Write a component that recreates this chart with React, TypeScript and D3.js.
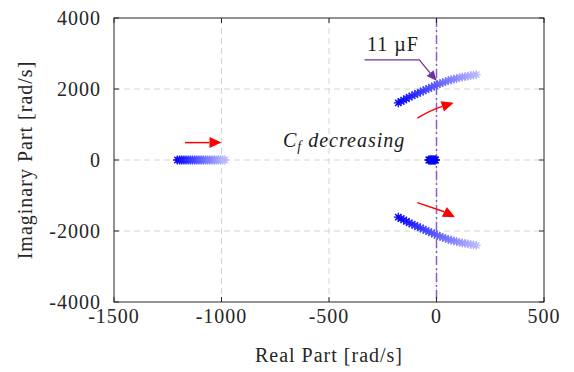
import { useEffect, useRef } from "react";
import * as d3 from "d3";

// Root locus (rad/s)
const UPPER_REAL = [
  -178, -165, -152, -140, -127, -114, -101, -88, -75, -62, -49, -36, -23, -10,
  3, 16, 29, 42, 55, 68, 81, 94, 107, 120, 133, 146, 159, 172, 185,
];
const UPPER_IMAG = [
  1610, 1650, 1690, 1730, 1768, 1805, 1840, 1875, 1910, 1945, 1980, 2015, 2050,
  2085, 2120, 2150, 2180, 2208, 2235, 2258, 2280, 2300, 2318, 2335, 2350, 2365,
  2380, 2393, 2405,
];
const LOWER_REAL = [
  -178, -165, -152, -140, -127, -114, -101, -88, -75, -62, -49, -36, -23, -10,
  3, 16, 29, 42, 55, 68, 81, 94, 107, 120, 133, 146, 159, 172, 185,
];
const LOWER_IMAG = [
  -1610, -1650, -1690, -1730, -1768, -1805, -1840, -1875, -1910, -1945, -1980,
  -2015, -2050, -2085, -2120, -2150, -2180, -2208, -2235, -2258, -2280, -2300,
  -2318, -2335, -2350, -2365, -2380, -2393, -2405,
];
const AXIS_REAL = [
  -1205, -1195, -1185, -1175, -1165, -1155, -1145, -1135, -1125, -1115, -1105,
  -1095, -1085, -1075, -1065, -1055, -1045, -1035, -1025, -1015, -1005, -995,
  -985,
];
const AXIS_IMAG = [
  0, 0, 0, 0, 0, 0, 0, 0, 0, 0, 0, 0, 0, 0, 0, 0, 0, 0, 0, 0, 0, 0, 0,
];
const CLUSTER_REAL = [-36, -32, -28, -24, -20, -16, -12, -8, -4];
const CLUSTER_IMAG = [0, 0, 0, 0, 0, 0, 0, 0, 0];

const REAL_TICKS = [-1500, -1000, -500, 0, 500];
const IMAG_TICKS = [-4000, -2000, 0, 2000, 4000];

// annotation anchors in data units
const STRAIGHT_ARROW = [[-1170, 490], [-1000, 490]];
const UPPER_ARROW = [[-89, 1180], [-26, 1408], [80, 1614]];
const LOWER_ARROW = [[-89, -1200], [35, -1454], [86, -1614]];
const CF_LINE = [[-335, 2820], [-80, 2820], [0, 2230]];
const CF_LABEL: [number, number] = [-203, 3070];
const DECREASING_LABEL: [number, number] = [-714, 366];

const FONT = "'Liberation Serif', 'Times New Roman', serif";
const LS = "1px";

export default function App() {
  const svgRef = useRef<SVGSVGElement>(null);

  useEffect(() => {
    if (!svgRef.current) return;
    const svg = d3.select(svgRef.current);
    svg.selectAll("*").remove();

    const W = 574;
    const H = 372;
    const margin = { top: 18, right: 30, bottom: 70, left: 114 };
    const width = W - margin.left - margin.right;
    const height = H - margin.top - margin.bottom;

    const x = d3.scaleLinear().domain([-1500, 500]).range([0, width]);
    const y = d3.scaleLinear().domain([-4000, 4000]).range([height, 0]);

    svg.append("rect").attr("width", W).attr("height", H).attr("fill", "#fff");

    const g = svg
      .append("g")
      .attr("transform", `translate(${margin.left},${margin.top})`);

    // grid
    REAL_TICKS.slice(1, -1).forEach((t) => {
      g.append("line")
        .attr("x1", x(t))
        .attr("x2", x(t))
        .attr("y1", 0)
        .attr("y2", height)
        .attr("stroke", "#d4d4d4")
        .attr("stroke-dasharray", "6,4");
    });
    IMAG_TICKS.slice(1, -1).forEach((t) => {
      g.append("line")
        .attr("x1", 0)
        .attr("x2", width)
        .attr("y1", y(t))
        .attr("y2", y(t))
        .attr("stroke", "#d4d4d4")
        .attr("stroke-dasharray", "6,4");
    });

    // 11 uF line at zero real part
    g.append("line")
      .attr("x1", x(0))
      .attr("x2", x(0))
      .attr("y1", 0)
      .attr("y2", height)
      .attr("stroke", "#8e5cc9")
      .attr("stroke-width", 1.5)
      .attr("stroke-dasharray", "9,3,2,3");

    // asterisk marker (plus + cross)
    const r = 4.4;
    const d = r * 0.72;
    const star = `M${-r},0L${r},0M0,${-r}L0,${r}M${-d},${-d}L${d},${d}M${-d},${d}L${d},${-d}`;
    const ramp = d3.interpolateRgb("#0000ff", "#b8b8ff");

    const drawBranch = (re: number[], im: number[], solid = false) => {
      re.forEach((v, i) => {
        const t = re.length > 1 ? i / (re.length - 1) : 0;
        g.append("path")
          .attr("d", star)
          .attr("transform", `translate(${x(v)},${y(im[i])})`)
          .attr("fill", "none")
          .attr("stroke", solid ? "#0000ff" : ramp(t))
          .attr("stroke-width", 1.3);
      });
    };
    drawBranch(AXIS_REAL, AXIS_IMAG);
    drawBranch(UPPER_REAL, UPPER_IMAG);
    drawBranch(LOWER_REAL, LOWER_IMAG);
    drawBranch(CLUSTER_REAL, CLUSTER_IMAG, true);

    // arrowheads
    const head = (
      tip: [number, number],
      from: [number, number],
      color: string,
      len = 11,
      half = 5
    ) => {
      const ang = Math.atan2(tip[1] - from[1], tip[0] - from[0]);
      const bx = tip[0] - len * Math.cos(ang);
      const by = tip[1] - len * Math.sin(ang);
      const px = -Math.sin(ang) * half;
      const py = Math.cos(ang) * half;
      g.append("path")
        .attr(
          "d",
          `M${tip[0]},${tip[1]}L${bx + px},${by + py}L${bx - px},${by - py}Z`
        )
        .attr("fill", color);
      return [bx, by] as [number, number];
    };

    const red = "#ff0000";
    // straight arrow
    {
      const a: [number, number] = [x(STRAIGHT_ARROW[0][0]), y(STRAIGHT_ARROW[0][1])];
      const b: [number, number] = [x(STRAIGHT_ARROW[1][0]), y(STRAIGHT_ARROW[1][1])];
      const base = head(b, a, red, 12, 5.5);
      g.append("line")
        .attr("x1", a[0])
        .attr("y1", a[1])
        .attr("x2", base[0])
        .attr("y2", base[1])
        .attr("stroke", red)
        .attr("stroke-width", 1.5);
    }
    // curved arrows
    [UPPER_ARROW, LOWER_ARROW].forEach((pts) => {
      const [p0, c, p1] = pts.map((p) => [x(p[0]), y(p[1])] as [number, number]);
      const base = head(p1, c, red, 12, 5.5);
      g.append("path")
        .attr("d", `M${p0[0]},${p0[1]}Q${c[0]},${c[1]} ${base[0]},${base[1]}`)
        .attr("fill", "none")
        .attr("stroke", red)
        .attr("stroke-width", 1.5);
    });

    // 11 uF callout
    {
      const pts = CF_LINE.map((p) => [x(p[0]), y(p[1])] as [number, number]);
      const base = head(pts[2], pts[1], "#7030a0", 10, 4.5);
      g.append("path")
        .attr(
          "d",
          `M${pts[0][0]},${pts[0][1]}L${pts[1][0]},${pts[1][1]}L${base[0]},${base[1]}`
        )
        .attr("fill", "none")
        .attr("stroke", "#7030a0")
        .attr("stroke-width", 1.3);
      g.append("text")
        .attr("x", x(CF_LABEL[0]))
        .attr("y", y(CF_LABEL[1]))
        .attr("text-anchor", "middle")
        .attr("font-family", FONT)
        .attr("font-size", "20px")
        .attr("letter-spacing", LS)
        .attr("fill", "#1a1a1a")
        .text("11 \u00b5F");
    }

    // C_f decreasing
    {
      const t = g
        .append("text")
        .attr("x", x(DECREASING_LABEL[0]))
        .attr("y", y(DECREASING_LABEL[1]))
        .attr("font-family", FONT)
        .attr("font-style", "italic")
        .attr("font-size", "20px")
        .attr("letter-spacing", LS)
        .attr("fill", "#1a1a1a");
      t.append("tspan").text("C");
      t.append("tspan").attr("font-size", "14px").attr("dy", 4).text("f");
      t.append("tspan").attr("dy", -4).text(" decreasing");
    }

    // box
    g.append("rect")
      .attr("width", width)
      .attr("height", height)
      .attr("fill", "none")
      .attr("stroke", "#262626")
      .attr("stroke-width", 1);

    // ticks (inward, all sides)
    const tl = 5;
    REAL_TICKS.forEach((t) => {
      g.append("line")
        .attr("x1", x(t)).attr("x2", x(t))
        .attr("y1", height).attr("y2", height - tl)
        .attr("stroke", "#262626");
      g.append("line")
        .attr("x1", x(t)).attr("x2", x(t))
        .attr("y1", 0).attr("y2", tl)
        .attr("stroke", "#262626");
      g.append("text")
        .attr("x", x(t))
        .attr("y", height + 21)
        .attr("text-anchor", "middle")
        .attr("font-family", FONT)
        .attr("font-size", "20px")
        .attr("letter-spacing", LS)
        .attr("fill", "#262626")
        .text(String(t));
    });
    IMAG_TICKS.forEach((t) => {
      g.append("line")
        .attr("x1", 0).attr("x2", tl)
        .attr("y1", y(t)).attr("y2", y(t))
        .attr("stroke", "#262626");
      g.append("line")
        .attr("x1", width).attr("x2", width - tl)
        .attr("y1", y(t)).attr("y2", y(t))
        .attr("stroke", "#262626");
      g.append("text")
        .attr("x", -13)
        .attr("y", y(t) + 7)
        .attr("text-anchor", "end")
        .attr("font-family", FONT)
        .attr("font-size", "20px")
        .attr("letter-spacing", LS)
        .attr("fill", "#262626")
        .text(String(t));
    });

    // axis titles
    g.append("text")
      .attr("x", width / 2)
      .attr("y", height + 60)
      .attr("text-anchor", "middle")
      .attr("font-family", FONT)
      .attr("font-size", "20px")
      .attr("letter-spacing", LS)
      .attr("fill", "#262626")
      .text("Real Part [rad/s]");
    g.append("text")
      .attr("transform", `translate(${-82},${height / 2}) rotate(-90)`)
      .attr("text-anchor", "middle")
      .attr("font-family", FONT)
      .attr("font-size", "20px")
      .attr("letter-spacing", LS)
      .attr("fill", "#262626")
      .text("Imaginary Part [rad/s]");
  }, []);

  return (
    <svg
      ref={svgRef}
      width={574}
      height={372}
      style={{ position: "absolute", left: 0, top: 0 }}
    />
  );
}
